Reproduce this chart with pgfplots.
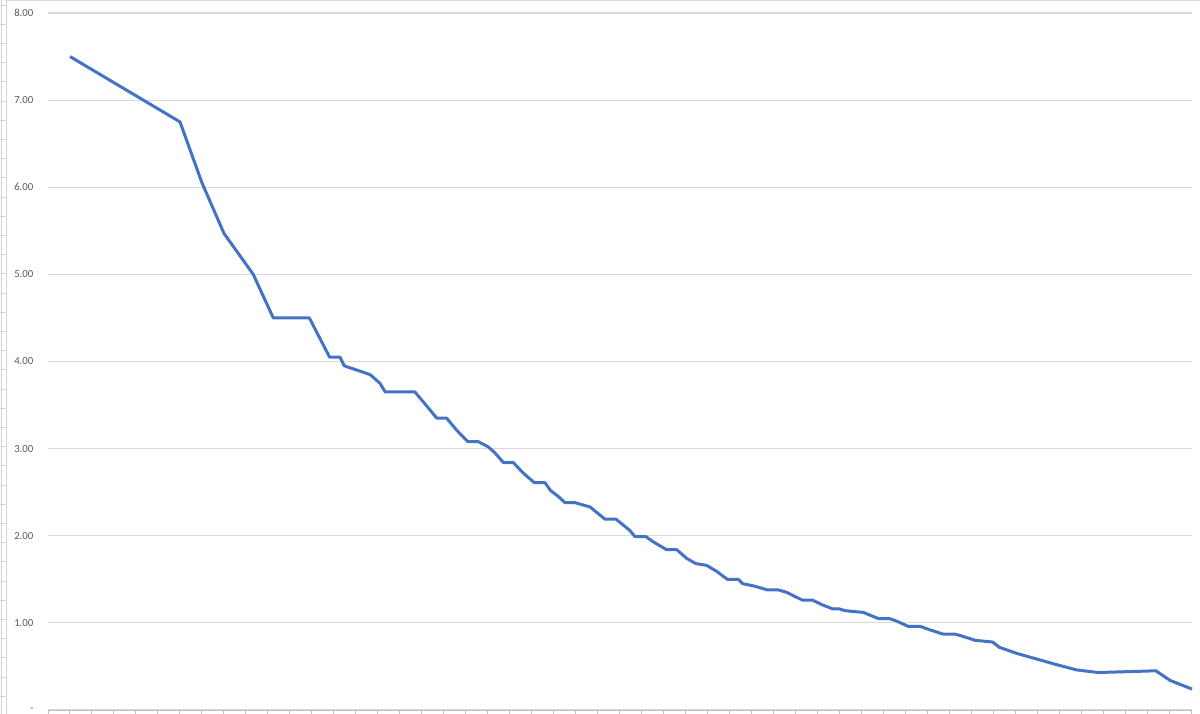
\documentclass[border=0pt]{standalone}
\usepackage{pgfplots}
\pgfplotsset{compat=1.18}
\usepackage{fontspec}
\setmainfont{Carlito}
\definecolor{xlblue}{RGB}{68,114,196}
\definecolor{gridgray}{RGB}{217,217,217}
\definecolor{axgray}{RGB}{191,191,191}
\definecolor{labgray}{RGB}{89,89,89}
\definecolor{cellgray}{RGB}{212,212,212}
\begin{document}
\begin{tikzpicture}
\useasboundingbox (0,0) rectangle (600bp,357bp);
% spreadsheet edge showing at the left
\draw[cellgray, line width=0.4bp] (0.7bp,0) -- (0.7bp,357bp);
\draw[cellgray, line width=0.4bp] (3bp,0) -- (3bp,357bp);
\foreach \k in {0,...,36} {
  \draw[cellgray, line width=0.4bp] (0,354.5bp-\k*9.6bp) -- (3bp,354.5bp-\k*9.6bp);
}
\draw[gridgray, line width=0.5bp] (3bp,356.8bp) -- (600bp,356.8bp);
\begin{axis}[
  at={(24bp,2bp)}, anchor=south west,
  scale only axis, width=572bp, height=348.5bp,
  xmin=0, xmax=52, ymin=0, ymax=8,
  axis lines*=left,
  x axis line style={-, draw=axgray, line width=0.5bp},
  y axis line style={draw=none},
  xtick={0,...,52}, xticklabels={},
  x tick style={draw=axgray, line width=0.5bp},
  tick align=outside, major tick length=2.2bp,
  ytick={0,1,...,8},
  yticklabels={-\hspace{2bp},1.00,2.00,3.00,4.00,5.00,6.00,7.00,8.00},
  y tick style={draw=none},
  yticklabel style={font=\fontsize{5.4}{6}\selectfont, text=labgray, anchor=east, xshift=-1.6bp},
  ymajorgrids, grid style={gridgray, line width=0.55bp},
  clip=false,
]
\addplot[xlblue, line width=1.5bp, line join=round] coordinates {
  (1.00,7.50) (6.00,6.75) (7.00,6.05) (8.00,5.47) (9.33,5.00)
  (10.24,4.50) (11.88,4.50) (12.80,4.05) (13.27,4.05) (13.47,3.95)
  (14.64,3.85) (15.09,3.75) (15.33,3.65) (16.68,3.65) (17.18,3.50)
  (17.67,3.35) (18.12,3.35) (18.58,3.21) (19.08,3.08) (19.56,3.08)
  (20.01,3.02) (20.32,2.95) (20.70,2.84) (21.15,2.84) (21.60,2.72)
  (22.10,2.61) (22.59,2.61) (22.84,2.52) (23.20,2.45) (23.50,2.38)
  (23.95,2.38) (24.64,2.33) (25.32,2.19) (25.82,2.19) (26.45,2.06)
  (26.68,1.99) (27.18,1.99) (27.51,1.93) (28.12,1.84) (28.58,1.84)
  (29.03,1.74) (29.45,1.68) (29.94,1.66) (30.40,1.59) (30.88,1.50)
  (31.38,1.50) (31.58,1.45) (32.14,1.42) (32.67,1.38) (33.18,1.38)
  (33.58,1.35) (34.30,1.26) (34.76,1.26) (35.17,1.21) (35.67,1.16)
  (35.97,1.16) (36.23,1.14) (37.06,1.12) (37.74,1.05) (38.24,1.05)
  (38.58,1.02) (39.10,0.96) (39.64,0.96) (40.09,0.92) (40.70,0.87)
  (41.23,0.87) (41.53,0.85) (42.14,0.80) (42.94,0.78) (43.24,0.72)
  (44.03,0.65) (45.85,0.52) (46.76,0.46) (47.74,0.43) (50.36,0.45)
  (51.00,0.34) (52.00,0.24)
};
\end{axis}
\end{tikzpicture}
\end{document}
